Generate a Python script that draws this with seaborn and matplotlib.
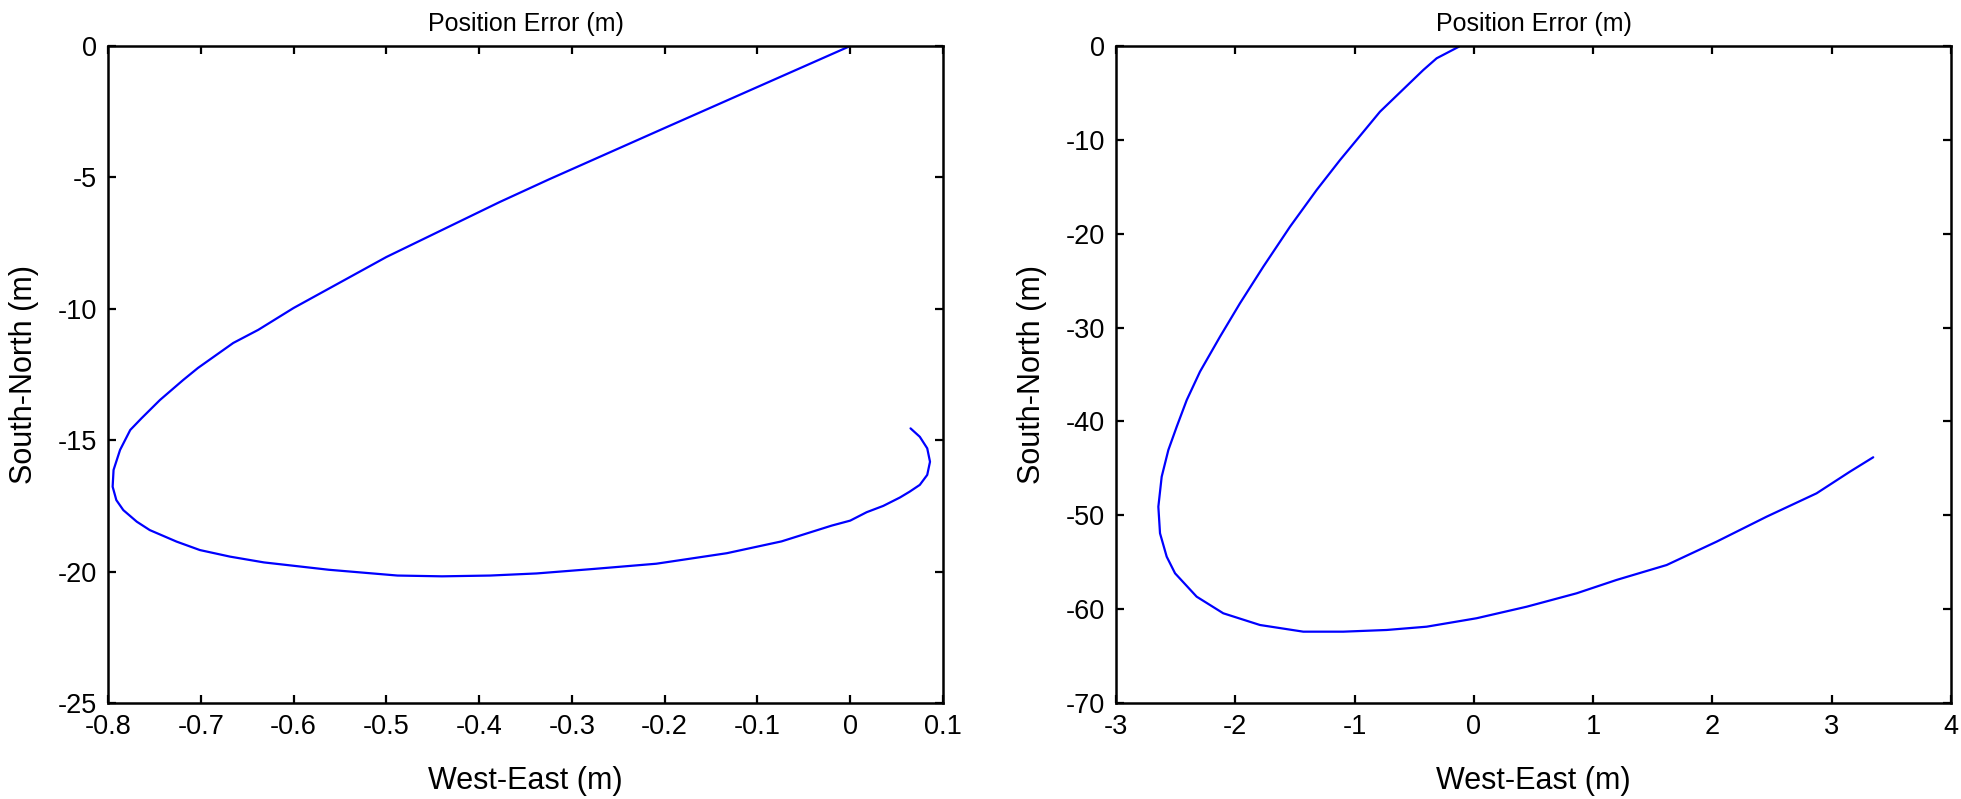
"""Position error trajectories, two panels."""

import matplotlib
matplotlib.use("Agg")
import matplotlib.pyplot as plt
import pandas as pd
import seaborn as sns

# left panel: West-East / South-North error (m), in trajectory order
LEFT_EAST = [0.0, -0.10, -0.20, -0.325, -0.378, -0.50, -0.60, -0.638, -0.665,
             -0.703, -0.719, -0.744, -0.764, -0.776, -0.787, -0.794, -0.795,
             -0.791, -0.7835, -0.769, -0.755, -0.726, -0.701, -0.6685, -0.632,
             -0.562, -0.488, -0.44, -0.388, -0.338, -0.277, -0.209, -0.133,
             -0.074, -0.02, 0.0, 0.0177, 0.0356, 0.0536, 0.064, 0.075, 0.083,
             0.086, 0.083, 0.075, 0.065]
LEFT_NORTH = [0.0, -1.56, -3.12, -5.08, -5.94, -8.03, -9.97, -10.8, -11.3,
              -12.25, -12.71, -13.47, -14.17, -14.61, -15.37, -16.13, -16.77,
              -17.28, -17.66, -18.1, -18.42, -18.86, -19.18, -19.43, -19.65,
              -19.93, -20.15, -20.18, -20.15, -20.07, -19.9, -19.7, -19.3,
              -18.85, -18.25, -18.06, -17.74, -17.5, -17.18, -16.96, -16.7,
              -16.32, -15.82, -15.31, -14.87, -14.55]

# right panel
RIGHT_EAST = [-0.125, -0.312, -0.424, -0.787, -0.982, -1.122, -1.318, -1.541,
              -1.765, -1.961, -2.128, -2.296, -2.407, -2.491, -2.561, -2.617,
              -2.645, -2.631, -2.575, -2.505, -2.324, -2.101, -1.793, -1.43,
              -1.095, -0.731, -0.396, 0.023, 0.443, 0.862, 1.196, 1.616, 2.035,
              2.454, 2.873, 3.153, 3.348]
RIGHT_NORTH = [-0.07, -1.31, -2.56, -7.0, -10.0, -12.15, -15.34, -19.25,
               -23.51, -27.42, -30.97, -34.7, -37.72, -40.56, -43.04, -45.89,
               -49.09, -51.92, -54.41, -56.18, -58.67, -60.44, -61.69, -62.4,
               -62.4, -62.22, -61.87, -60.97, -59.74, -58.31, -56.89, -55.3,
               -52.81, -50.15, -47.66, -45.35, -43.82]

TITLE = "Position Error (m)"
XLABEL = "West-East (m)"
YLABEL = "South-North (m)"

sns.set_theme(style="white")
plt.rcParams["font.family"] = ["Liberation Sans", "DejaVu Sans"]
plt.rcParams["text.color"] = "black"
plt.rcParams["axes.labelcolor"] = "black"

fig = plt.figure(figsize=(19.61, 7.99), dpi=100)
ax_l = fig.add_axes([108 / 1961, 96 / 799, 835 / 1961, 657 / 799])
ax_r = fig.add_axes([1116 / 1961, 96 / 799, 835 / 1961, 657 / 799])

panels = [
    (ax_l, LEFT_EAST, LEFT_NORTH, (-0.8, 0.1), (-25, 0),
     [-0.8, -0.7, -0.6, -0.5, -0.4, -0.3, -0.2, -0.1, 0, 0.1], [-25, -20, -15, -10, -5, 0]),
    (ax_r, RIGHT_EAST, RIGHT_NORTH, (-3, 4), (-70, 0),
     [-3, -2, -1, 0, 1, 2, 3, 4], [-70, -60, -50, -40, -30, -20, -10, 0]),
]

for ax, east, north, xlim, ylim, xt, yt in panels:
    df = pd.DataFrame({"east": east, "north": north})
    sns.lineplot(data=df, x="east", y="north", sort=False, estimator=None,
                 color="#0000ff", linewidth=1.6, ax=ax)
    ax.set_xlim(*xlim)
    ax.set_ylim(*ylim)
    ax.set_xticks(xt)
    ax.set_yticks(yt)
    ax.set_xticklabels([f"{v:g}" for v in xt])
    ax.set_yticklabels([f"{v:g}" for v in yt])
    ax.tick_params(direction="in", length=6, width=1.6, top=True, right=True,
                   bottom=True, left=True, labelsize=19.5, pad=8,
                   colors="black", labelcolor="black")
    for sp in ax.spines.values():
        sp.set_visible(True)
        sp.set_color("black")
        sp.set_linewidth(1.8)
    ax.set_xlabel(XLABEL, fontsize=22, labelpad=19, color="black")
    ax.set_ylabel(YLABEL, fontsize=22, labelpad=13, color="black")
    ax.set_title(TITLE, fontsize=18, pad=11, color="black")

fig.savefig("out.png", dpi=100, facecolor="white")
